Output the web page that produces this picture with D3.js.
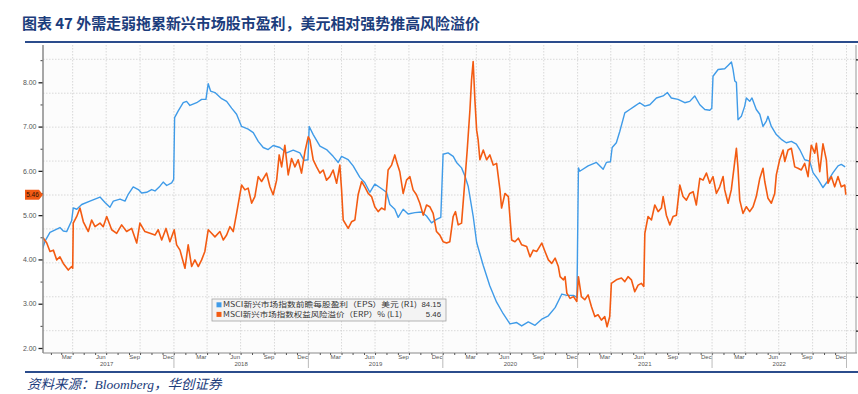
<!DOCTYPE html>
<html>
<head>
<meta charset="utf-8">
<script src="https://cdn.jsdelivr.net/npm/d3@7"></script>
<style>
  body { margin: 0; background: #fff; }
  svg { display: block; }
</style>
</head>
<body>
<div id="chart"></div>
<script>
// ---- data ----
var titleText = "图表 47 外需走弱拖累新兴市场股市盈利，美元相对强势推高风险溢价";
var sourceText = "资料来源：Bloomberg，华创证券";
var legendLabels = ["MSCI新兴市场指数前瞻每股盈利（EPS）美元 (R1)", "MSCI新兴市场指数权益风险溢价（ERP）% (L1)"];
var legendValues = ["84.15", "5.46"];
var leftTicks = [2, 3, 4, 5, 6, 7, 8];
var rightTicks = [60, 65, 70, 75, 80, 85, 90, 95, 100];
var monthLabels = ["Mar", "Jun", "Sep", "Dec"];
var yearLabels = [2017, 2018, 2019, 2020, 2021, 2022];
var lastErp = 5.46;

// [decimal year, EPS in USD] (right axis)
var epsSeries = [
  [2017.024,72.1],[2017.041,73.2],[2017.078,74.5],[2017.152,75.2],[2017.177,74.7],[2017.202,74.6],
  [2017.239,76.2],[2017.251,78.1],[2017.277,77.9],[2017.314,78.6],[2017.375,79.1],[2017.450,79.7],
  [2017.487,78.9],[2017.524,78.2],[2017.549,79.1],[2017.599,79.4],[2017.636,79.1],[2017.660,80.1],
  [2017.697,81.2],[2017.735,80.8],[2017.760,80.3],[2017.797,80.4],[2017.834,80.8],[2017.859,80.6],
  [2017.896,81.3],[2017.920,81.9],[2017.946,81.4],[2017.983,81.8],[2017.998,82.3],[2018.005,91.4],
  [2018.032,92.4],[2018.069,93.6],[2018.094,93.8],[2018.119,93.2],[2018.169,93.6],[2018.206,94.1],
  [2018.238,94.1],[2018.255,96.4],[2018.273,95.3],[2018.305,95.1],[2018.355,94.2],[2018.392,93.8],
  [2018.429,92.8],[2018.466,91.9],[2018.503,90.1],[2018.552,89.7],[2018.590,89.2],[2018.627,87.9],
  [2018.664,87.0],[2018.701,86.7],[2018.738,87.3],[2018.788,87.0],[2018.838,86.2],[2018.887,86.6],
  [2018.937,86.2],[2018.967,85.1],[2018.997,85.2],[2019.006,90.1],[2019.036,88.9],[2019.086,87.2],
  [2019.135,86.7],[2019.184,85.7],[2019.222,84.8],[2019.247,85.7],[2019.296,85.2],[2019.333,84.3],
  [2019.383,82.6],[2019.420,81.8],[2019.457,80.4],[2019.494,81.6],[2019.532,81.1],[2019.581,80.4],
  [2019.606,78.6],[2019.643,77.9],[2019.668,76.7],[2019.705,77.9],[2019.742,77.2],[2019.792,77.4],
  [2019.842,77.5],[2019.879,76.9],[2019.916,75.9],[2019.953,76.4],[2019.985,76.7],[2020.002,86.0],
  [2020.039,86.2],[2020.077,85.7],[2020.102,84.8],[2020.139,84.0],[2020.164,82.8],[2020.188,81.3],
  [2020.225,76.9],[2020.251,73.0],[2020.300,69.6],[2020.349,66.6],[2020.399,64.2],[2020.448,62.5],
  [2020.498,61.0],[2020.548,61.2],[2020.585,60.7],[2020.634,61.3],[2020.684,60.8],[2020.734,61.7],
  [2020.783,62.2],[2020.833,63.4],[2020.883,65.4],[2020.920,65.2],[2020.969,65.2],[2020.995,64.9],
  [2021.006,84.0],[2021.016,83.5],[2021.078,84.3],[2021.140,84.8],[2021.190,83.8],[2021.214,84.8],
  [2021.244,84.9],[2021.257,87.0],[2021.288,87.7],[2021.314,89.4],[2021.351,92.1],[2021.388,92.6],
  [2021.425,93.1],[2021.462,93.6],[2021.500,93.1],[2021.537,93.3],[2021.586,94.3],[2021.636,94.6],
  [2021.668,95.1],[2021.697,94.3],[2021.747,94.1],[2021.797,93.6],[2021.834,93.8],[2021.871,94.6],
  [2021.909,93.3],[2021.946,92.6],[2021.983,92.5],[2021.998,92.8],[2022.007,97.5],[2022.045,98.5],
  [2022.094,98.6],[2022.119,99.1],[2022.144,99.6],[2022.156,98.5],[2022.169,96.8],[2022.181,96.6],
  [2022.193,91.1],[2022.218,91.6],[2022.243,93.1],[2022.255,94.3],[2022.280,93.8],[2022.297,94.3],
  [2022.329,92.6],[2022.355,91.9],[2022.379,90.1],[2022.404,90.9],[2022.416,91.6],[2022.441,90.1],
  [2022.478,88.9],[2022.515,88.2],[2022.552,87.7],[2022.590,87.9],[2022.627,87.5],[2022.652,86.7],
  [2022.689,85.2],[2022.726,85.0],[2022.751,83.3],[2022.788,82.3],[2022.825,81.1],[2022.862,82.1],
  [2022.900,83.3],[2022.937,84.3],[2022.961,84.5],[2022.990,84.15]
];

// [decimal year, ERP in %] (left axis)
var erpSeries = [
  [2017.024,4.50],[2017.054,4.37],[2017.078,4.18],[2017.103,4.21],[2017.128,3.99],[2017.152,4.06],
  [2017.177,3.91],[2017.214,3.76],[2017.239,3.84],[2017.247,3.80],[2017.251,4.82],[2017.277,4.97],
  [2017.301,5.16],[2017.326,4.85],[2017.363,4.63],[2017.388,4.89],[2017.413,4.74],[2017.450,4.82],
  [2017.474,4.74],[2017.500,4.97],[2017.537,4.67],[2017.574,4.59],[2017.611,4.78],[2017.648,4.63],
  [2017.686,4.70],[2017.723,4.37],[2017.747,4.82],[2017.784,4.63],[2017.822,4.59],[2017.859,4.55],
  [2017.883,4.67],[2017.909,4.44],[2017.941,4.70],[2017.970,4.40],[2018.002,4.67],[2018.020,4.33],
  [2018.045,4.21],[2018.082,3.80],[2018.106,4.33],[2018.132,3.84],[2018.156,3.99],[2018.181,3.84],
  [2018.206,3.99],[2018.230,4.18],[2018.255,4.67],[2018.280,4.59],[2018.305,4.51],[2018.342,4.63],
  [2018.367,4.44],[2018.392,4.55],[2018.416,4.74],[2018.441,4.63],[2018.466,5.04],[2018.503,5.68],
  [2018.528,5.57],[2018.552,5.61],[2018.578,5.27],[2018.602,5.42],[2018.627,5.87],[2018.652,5.76],
  [2018.689,5.95],[2018.714,5.64],[2018.738,5.46],[2018.764,5.79],[2018.783,6.36],[2018.801,6.09],
  [2018.825,6.58],[2018.850,5.91],[2018.875,6.28],[2018.900,6.09],[2018.924,6.25],[2018.949,5.95],
  [2018.974,6.43],[2018.999,6.77],[2019.011,6.70],[2019.036,6.25],[2019.061,6.09],[2019.086,5.95],
  [2019.110,6.02],[2019.135,5.79],[2019.160,5.87],[2019.184,6.02],[2019.210,5.72],[2019.234,6.13],
  [2019.247,5.57],[2019.259,4.89],[2019.296,4.70],[2019.321,4.85],[2019.346,4.89],[2019.370,5.46],
  [2019.396,5.76],[2019.420,5.64],[2019.445,5.49],[2019.470,5.42],[2019.494,5.19],[2019.519,5.08],
  [2019.544,5.16],[2019.569,5.12],[2019.593,6.02],[2019.619,6.13],[2019.643,6.36],[2019.660,6.17],
  [2019.680,5.98],[2019.705,5.49],[2019.730,5.79],[2019.755,5.87],[2019.779,5.57],[2019.804,5.46],
  [2019.829,5.27],[2019.854,5.00],[2019.879,5.23],[2019.903,5.19],[2019.928,5.04],[2019.953,4.63],
  [2019.978,4.55],[2020.002,4.40],[2020.028,4.37],[2020.052,4.40],[2020.077,4.97],[2020.094,5.08],
  [2020.114,4.78],[2020.139,4.82],[2020.164,5.79],[2020.181,6.47],[2020.201,7.37],[2020.213,8.05],
  [2020.225,8.47],[2020.238,7.60],[2020.251,6.92],[2020.262,6.70],[2020.275,6.25],[2020.300,6.47],
  [2020.325,6.25],[2020.349,6.36],[2020.374,6.13],[2020.399,6.17],[2020.424,5.57],[2020.436,5.16],
  [2020.461,5.49],[2020.486,5.42],[2020.511,4.44],[2020.535,4.40],[2020.560,4.48],[2020.585,4.33],
  [2020.622,4.29],[2020.647,4.06],[2020.671,4.21],[2020.697,4.18],[2020.734,4.37],[2020.758,4.18],
  [2020.783,3.99],[2020.808,3.91],[2020.833,4.03],[2020.857,3.84],[2020.870,3.61],[2020.895,3.54],
  [2020.907,3.61],[2020.920,3.24],[2020.944,3.12],[2020.969,3.16],[2020.994,3.05],[2021.006,3.61],
  [2021.028,3.16],[2021.053,3.09],[2021.078,3.20],[2021.103,2.93],[2021.128,2.71],[2021.152,2.75],
  [2021.177,2.63],[2021.202,2.71],[2021.219,2.48],[2021.239,2.71],[2021.251,3.46],[2021.288,3.54],
  [2021.326,3.58],[2021.351,3.50],[2021.375,3.61],[2021.400,3.54],[2021.425,3.27],[2021.450,3.42],
  [2021.474,3.46],[2021.492,3.39],[2021.500,4.59],[2021.524,4.97],[2021.549,4.89],[2021.574,5.23],
  [2021.599,5.08],[2021.623,5.16],[2021.636,5.42],[2021.660,5.00],[2021.686,4.78],[2021.710,4.97],
  [2021.735,5.00],[2021.760,5.68],[2021.784,5.42],[2021.809,5.34],[2021.834,5.49],[2021.859,5.53],
  [2021.883,5.23],[2021.909,5.83],[2021.933,5.79],[2021.958,5.95],[2021.983,5.72],[2022.007,5.87],
  [2022.032,5.49],[2022.057,5.64],[2022.082,5.87],[2022.094,5.57],[2022.119,5.27],[2022.143,5.57],
  [2022.164,6.09],[2022.181,6.51],[2022.193,6.06],[2022.206,5.34],[2022.230,5.04],[2022.255,5.19],
  [2022.280,5.08],[2022.305,5.19],[2022.329,5.42],[2022.355,5.83],[2022.379,6.06],[2022.392,5.76],
  [2022.416,5.38],[2022.441,5.27],[2022.466,5.49],[2022.478,5.91],[2022.503,6.25],[2022.528,6.47],
  [2022.541,6.21],[2022.565,6.47],[2022.590,6.51],[2022.615,6.09],[2022.639,6.06],[2022.664,6.02],
  [2022.689,6.17],[2022.714,5.87],[2022.738,6.58],[2022.764,6.40],[2022.776,6.62],[2022.801,5.98],
  [2022.825,6.61],[2022.850,6.25],[2022.862,5.72],[2022.887,5.87],[2022.912,5.64],[2022.937,5.87],
  [2022.961,5.64],[2022.987,5.68],[2022.995,5.46]
];

// ---- helpers ----
function toDate(t) {
  var y = Math.floor(t);
  var a = new Date(y, 0, 1), b = new Date(y + 1, 0, 1);
  return new Date(+a + (t - y) * (b - a));
}

var W = 858, H = 394;
var navy = "#1c3d7c";
var plot = { left: 43, right: 857, top: 45, bottom: 353 };

var svg = d3.select("#chart").append("svg")
  .attr("width", W).attr("height", H);

// title + rules
svg.append("text")
  .attr("x", 22).attr("y", 29)
  .attr("font-family", "'Noto Sans CJK SC', sans-serif")
  .attr("font-weight", "bold")
  .attr("font-size", 15)
  .attr("fill", navy)
  .attr("textLength", 458)
  .attr("lengthAdjust", "spacing")
  .text(titleText);

svg.append("line").attr("x1", 25).attr("x2", W).attr("y1", 42).attr("y2", 42)
  .attr("stroke", "#2b4c8c").attr("stroke-width", 2);
svg.append("line").attr("x1", 25).attr("x2", W).attr("y1", 372).attr("y2", 372)
  .attr("stroke", "#2b4c8c").attr("stroke-width", 2);

svg.append("text")
  .attr("x", 27).attr("y", 389)
  .attr("font-family", "'Liberation Serif', 'Noto Sans CJK SC', serif")
  .attr("font-style", "italic")
  .attr("font-size", 13.5)
  .attr("fill", navy)
  .text(sourceText);

// scales
var x = d3.scaleTime()
  .domain([new Date(2017, 0, 1), new Date(2023, 0, 1)])
  .range([39.5, 846.5]);
var yL = d3.scaleLinear().domain([2, 8]).range([348, 82.3]);
var yR = d3.scaleLinear().domain([60, 100]).range([330.7, 59.3]);

// plot background
svg.append("rect")
  .attr("x", plot.left).attr("y", plot.top)
  .attr("width", plot.right - plot.left).attr("height", plot.bottom - plot.top)
  .attr("fill", "#fcfcfc");

svg.append("clipPath").attr("id", "clip")
  .append("rect")
  .attr("x", plot.left).attr("y", plot.top)
  .attr("width", plot.right - plot.left).attr("height", plot.bottom - plot.top);

// grid
var grid = svg.append("g").attr("stroke", "#cfcfcf").attr("stroke-dasharray", "1.5,1.5").attr("stroke-width", 0.8);
grid.selectAll(".h").data(rightTicks).enter().append("line")
  .attr("x1", plot.left).attr("x2", plot.right)
  .attr("y1", function(d){ return yR(d); }).attr("y2", function(d){ return yR(d); });
var quarters = d3.timeMonth.every(3).range(new Date(2017, 3, 1), new Date(2023, 0, 2));
grid.selectAll(".v").data(quarters).enter().append("line")
  .attr("x1", function(d){ return x(d); }).attr("x2", function(d){ return x(d); })
  .attr("y1", plot.top).attr("y2", plot.bottom);

// lines
var lineEps = d3.line()
  .x(function(d){ return x(toDate(d[0])); })
  .y(function(d){ return yR(d[1]); });
var lineErp = d3.line()
  .x(function(d){ return x(toDate(d[0])); })
  .y(function(d){ return yL(d[1]); });

var lines = svg.append("g").attr("clip-path", "url(#clip)");
lines.append("path").attr("d", lineEps(epsSeries))
  .attr("fill", "none").attr("stroke", "#3f9be8").attr("stroke-width", 1.4)
  .attr("stroke-linejoin", "round");
lines.append("path").attr("d", lineErp(erpSeries))
  .attr("fill", "none").attr("stroke", "#f35b12").attr("stroke-width", 1.6)
  .attr("stroke-linejoin", "round");

// left axis
svg.append("line").attr("x1", plot.left).attr("x2", plot.left)
  .attr("y1", plot.top).attr("y2", plot.bottom)
  .attr("stroke", "#8a8a8a").attr("stroke-width", 1.5);

var axL = svg.append("g").attr("transform", "translate(" + (plot.left - 0.5) + ",0)")
  .call(d3.axisLeft(yL).tickValues(leftTicks).tickFormat(d3.format(".2f")).tickSize(4).tickPadding(2));
axL.select(".domain").remove();
axL.selectAll(".tick line").attr("stroke", "#222").attr("stroke-width", 1.3);
axL.selectAll(".tick text").attr("font-family", "'Liberation Sans', sans-serif")
  .attr("font-size", 7).attr("fill", "#555");

var minorL = svg.append("g").attr("transform", "translate(" + (plot.left - 0.5) + ",0)")
  .call(d3.axisLeft(yL).tickValues(d3.range(2.5, 8.6, 1)).tickFormat("").tickSize(2));
minorL.select(".domain").remove();
minorL.selectAll(".tick line").attr("stroke", "#444");

// right axis (labels are outside the picture)
var axR = svg.append("g").attr("transform", "translate(" + (plot.right - 1) + ",0)")
  .call(d3.axisRight(yR).tickValues(rightTicks).tickFormat("").tickSize(3));
axR.select(".domain").attr("stroke", "#9a9a9a").attr("d", "M0," + plot.top + "V" + plot.bottom);
axR.selectAll(".tick line").attr("stroke", "#222").attr("stroke-width", 1.2);

// bottom axis
svg.append("line").attr("x1", plot.left).attr("x2", plot.right)
  .attr("y1", plot.bottom).attr("y2", plot.bottom)
  .attr("stroke", "#8a8a8a").attr("stroke-width", 1);

var months = d3.timeMonth.range(new Date(2017, 1, 1), new Date(2023, 0, 1));
var axB = svg.append("g").attr("transform", "translate(0," + plot.bottom + ")")
  .call(d3.axisBottom(x).tickValues(months).tickFormat("").tickSize(2));
axB.select(".domain").remove();
axB.selectAll(".tick line").attr("stroke", "#555");

var labelDates = [];
yearLabels.forEach(function(yr){
  monthLabels.forEach(function(m, i){ labelDates.push(new Date(yr, 2 + i * 3, 15)); });
});
var axM = svg.append("g").attr("transform", "translate(0," + plot.bottom + ")")
  .call(d3.axisBottom(x).tickValues(labelDates).tickSize(0).tickPadding(2)
    .tickFormat(function(d){ return monthLabels[Math.floor(d.getMonth() / 3)]; }));
axM.select(".domain").remove();
axM.selectAll(".tick text").attr("font-family", "'Liberation Sans', sans-serif")
  .attr("font-size", 6).attr("fill", "#555");

var yearMid = yearLabels.map(function(yr){ return new Date(yr, 6, 1); });
var axY = svg.append("g").attr("transform", "translate(0," + (plot.bottom + 8) + ")")
  .call(d3.axisBottom(x).tickValues(yearMid).tickSize(0).tickPadding(1)
    .tickFormat(d3.timeFormat("%Y")));
axY.select(".domain").remove();
axY.selectAll(".tick text").attr("font-family", "'Liberation Sans', sans-serif")
  .attr("font-size", 6).attr("fill", "#555");

var yearStarts = d3.range(2018, 2024).map(function(yr){ return new Date(yr, 0, 1); });
svg.append("g").selectAll("line").data(yearStarts).enter().append("line")
  .attr("x1", function(d){ return x(d); }).attr("x2", function(d){ return x(d); })
  .attr("y1", plot.bottom).attr("y2", plot.bottom + 15)
  .attr("stroke", "#aaa").attr("stroke-width", 0.8);

// last value tag on left axis
var ty = yL(lastErp);
svg.append("path")
  .attr("d", "M25," + (ty - 5) + "H39L43," + ty + "L39," + (ty + 5) + "H25Z")
  .attr("fill", "#f05a14");
svg.append("text")
  .attr("x", 32.5).attr("y", ty + 2.3)
  .attr("text-anchor", "middle")
  .attr("font-family", "'Liberation Sans', sans-serif")
  .attr("font-size", 6.5).attr("fill", "#2a1204")
  .text(d3.format(".2f")(lastErp));

// legend
var lg = svg.append("g");
lg.append("rect").attr("x", 212).attr("y", 299).attr("width", 234).attr("height", 22)
  .attr("fill", "#f3f3f3").attr("stroke", "#a3a3a3").attr("stroke-width", 0.8);
var legColors = ["#3f9be8", "#f35b12"];
var legWidths = [194, 179];
legendLabels.forEach(function(t, i){
  var cy = 304.8 + i * 9.6;
  lg.append("rect").attr("x", 216.5).attr("y", cy - 2.5).attr("width", 5).attr("height", 5)
    .attr("fill", legColors[i]);
  lg.append("text").attr("x", 223).attr("y", cy + 2.6)
    .attr("font-family", "'Noto Sans CJK SC', sans-serif")
    .attr("font-size", 7.4).attr("fill", "#333")
    .attr("textLength", legWidths[i]).attr("lengthAdjust", "spacingAndGlyphs")
    .text(t);
  lg.append("text").attr("x", 441).attr("y", cy + 2.6).attr("text-anchor", "end")
    .attr("font-family", "'Liberation Sans', sans-serif")
    .attr("font-size", 7.8).attr("fill", "#333")
    .text(legendValues[i]);
});
</script>
</body>
</html>
